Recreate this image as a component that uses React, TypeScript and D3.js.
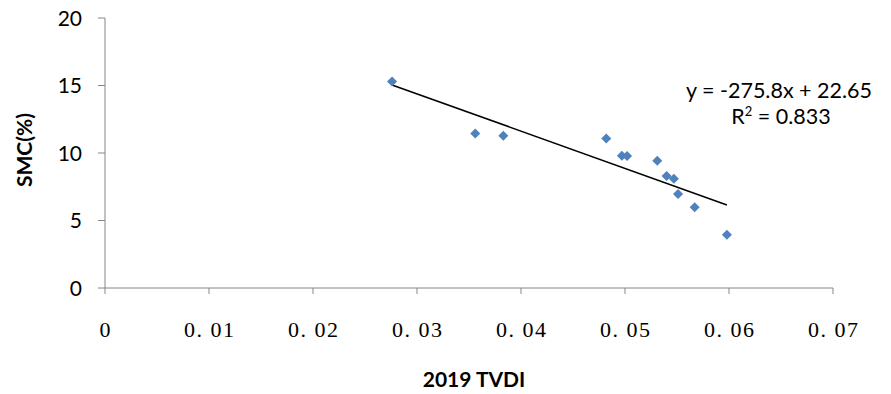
import React from "react";
import * as d3 from "d3";

const tvdi = [0.0276, 0.0356, 0.0383, 0.0482, 0.0497, 0.0502, 0.0531, 0.054, 0.0547, 0.0551, 0.0567, 0.0598];
const smc = [15.3, 11.45, 11.27, 11.07, 9.8, 9.78, 9.42, 8.3, 8.1, 6.96, 5.98, 3.95];
const xTicks = [0, 0.01, 0.02, 0.03, 0.04, 0.05, 0.06, 0.07];
const xTickLabels = ["0", "0. 01", "0. 02", "0. 03", "0. 04", "0. 05", "0. 06", "0. 07"];
const yTicks = [0, 5, 10, 15, 20];
const slope = -275.8;
const intercept = 22.65;
const eqText = "y = -275.8x + 22.65";
const r2Text = "0.833";

export default function App() {
  const W = 891, H = 394;
  const x = d3.scaleLinear().domain([0, 0.07]).range([105, 833]);
  const y = d3.scaleLinear().domain([0, 20]).range([288, 18]);
  const [xmin, xmax] = d3.extent(tvdi) as [number, number];
  const axisColor = "#868686";
  const sans = "Lato, 'Open Sans', 'Liberation Sans', sans-serif";
  const diamond = d3.symbol().type(d3.symbolDiamond2).size(64)()!;
  return (
    <svg width={W} height={H} style={{ position: "absolute", left: 0, top: 0, background: "#fff" }}>
      {/* axes */}
      <line x1={x(0)} x2={x(0)} y1={y(20)} y2={y(0)} stroke={axisColor} strokeWidth={1} />
      <line x1={x(0)} x2={x(0.07)} y1={y(0)} y2={y(0)} stroke={axisColor} strokeWidth={1} />
      {yTicks.map((t) => (
        <g key={"y" + t}>
          <line x1={x(0) - 7} x2={x(0)} y1={y(t)} y2={y(t)} stroke={axisColor} />
          <text x={82} y={y(t)} dy="0.36em" textAnchor="end" fontFamily={sans} fontSize={21} fill="#000">
            {t}
          </text>
        </g>
      ))}
      {xTicks.map((t, i) => (
        <g key={"x" + t}>
          <line x1={x(t)} x2={x(t)} y1={y(0)} y2={y(0) + 6} stroke={axisColor} />
          <text
            x={x(t)}
            y={337}
            textAnchor="middle"
            fontFamily="'Liberation Serif', 'DejaVu Serif', serif"
            fontSize={22}
            fill="#000"
            {...(i > 0 ? { textLength: 50, lengthAdjust: "spacing" } : {})}
          >
            {xTickLabels[i]}
          </text>
        </g>
      ))}
      {/* trendline */}
      <line
        x1={x(xmin)}
        y1={y(slope * xmin + intercept)}
        x2={x(xmax)}
        y2={y(slope * xmax + intercept)}
        stroke="#000"
        strokeWidth={1.6}
      />
      {/* points */}
      {tvdi.map((v, i) => (
        <path key={i} d={diamond} transform={`translate(${x(v)},${y(smc[i])})`} fill="#4F81BD" />
      ))}
      {/* equation */}
      <text x={779} y={98} textAnchor="middle" fontFamily={sans} fontSize={21.5} fill="#000">
        {eqText}
      </text>
      <text x={781} y={124} textAnchor="middle" fontFamily={sans} fontSize={21.5} fill="#000">
        R<tspan dy={-8} fontSize={13}>2</tspan>
        <tspan dy={8}> = {r2Text}</tspan>
      </text>
      {/* axis titles */}
      <text
        transform={`translate(32,150) rotate(-90)`}
        textAnchor="middle"
        fontFamily={sans}
        fontWeight="bold"
        fontSize={21}
        fill="#000"
      >
        SMC(%)
      </text>
      <text x={474} y={387} textAnchor="middle" fontFamily={sans} fontWeight="bold" fontSize={21} fill="#000">
        2019 TVDI
      </text>
    </svg>
  );
}
